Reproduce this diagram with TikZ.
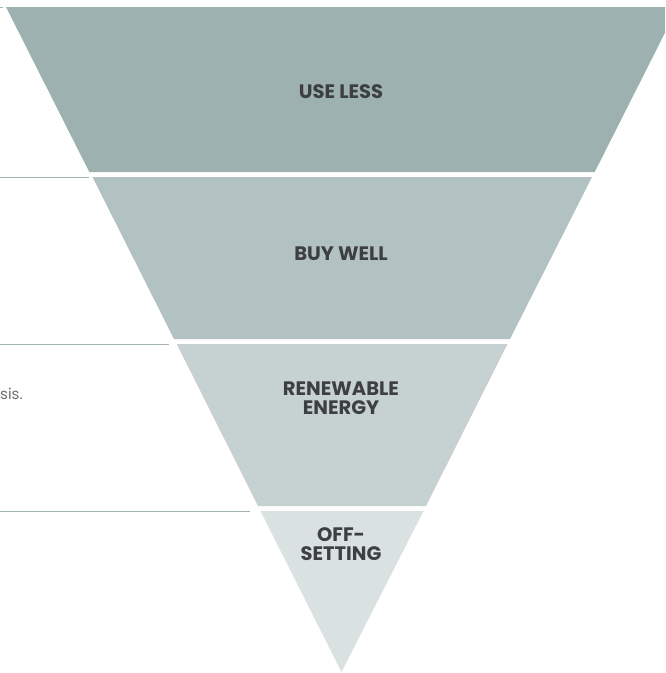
\documentclass[tikz,border=0pt]{standalone}
\usepackage{fontspec}
\setmainfont{Poppins}
\usepackage{tikz}
\usetikzlibrary{positioning}
\definecolor{bandA}{HTML}{9DB1B0}
\definecolor{bandB}{HTML}{B2C1C1}
\definecolor{bandC}{HTML}{C6D1D1}
\definecolor{bandD}{HTML}{D9E1E1}
\definecolor{labeltext}{HTML}{3D3F40}
\definecolor{ruleline}{HTML}{A3B3B3}
\definecolor{bodytext}{HTML}{6E6E6E}

\begin{document}
\begin{tikzpicture}[
  x=1pt, y=-1pt,
  band/.style={draw=none},
  steplabel/.style={text=labeltext,font=\fontsize{19.5}{18.5}\selectfont\bfseries,align=center,inner sep=0pt},
  leftrule/.style={draw=ruleline,line width=0.9pt},
  bodynote/.style={text=bodytext,font=\fontsize{15}{17}\selectfont,inner sep=0pt,anchor=base west}
]
\useasboundingbox (0,0) rectangle (665,673);
\clip (0,0) rectangle (665,673);
% bands of the funnel
\fill[band,bandA] (6,7) -- (678,7) -- (594.7,172) -- (89.3,172) -- cycle;
\fill[band,bandB] (92.5,177) -- (592,177) -- (510,339) -- (174,339) -- cycle;
\fill[band,bandC] (176.7,344) -- (507.5,344) -- (426,506) -- (258,506) -- cycle;
\fill[band,bandD] (260.5,511) -- (423.5,511) -- (341.5,672) -- cycle;
% labels
\node[steplabel] (useless) at (341,92) {USE LESS};
\node[steplabel] (buywell) at (341,254) {BUY WELL};
\node[steplabel] (renew) at (341,398) {RENEWABLE\\ENERGY};
\node[steplabel] (offset) at (341,544) {OFF-\\SETTING};
% rules on the left
\coordinate (r0a) at (0,7);   \coordinate (r0b) at (3,7);
\coordinate (r1a) at (0,177); \coordinate (r1b) at (89,177);
\coordinate (r2a) at (0,344); \coordinate (r2b) at (169,344);
\coordinate (r3a) at (0,511); \coordinate (r3b) at (250,511);
\draw[leftrule] (r0a) -- (r0b);
\draw[leftrule] (r1a) -- (r1b);
\draw[leftrule] (r2a) -- (r2b);
\draw[leftrule] (r3a) -- (r3b);
\node[bodynote] (note) at (0,399) {sis.};
\end{tikzpicture}
\end{document}
